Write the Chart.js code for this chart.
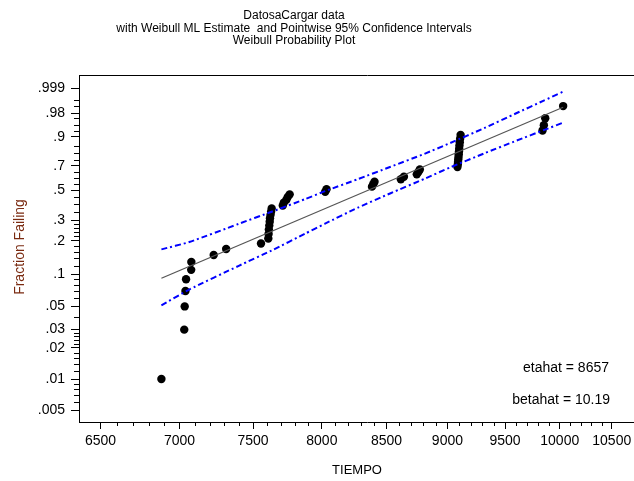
<!DOCTYPE html>
<html>
<head>
<meta charset="utf-8">
<script src="https://cdn.jsdelivr.net/npm/chart.js@4.4.1/dist/chart.umd.min.js"></script>
<style>
  html, body { margin: 0; padding: 0; background: #fff; overflow: hidden; }
  canvas { display: block; }
</style>
</head>
<body>
<canvas id="plot" width="660" height="481"></canvas>
<script>
// Failure times (TIEMPO) and their plotting positions (fraction failing)
const failTimes = [
  6882, 7031, 7034, 7039, 7043, 7077, 7078, 7228, 7313, 7556,
  7608, 7610, 7612, 7615, 7618, 7620, 7624, 7628, 7632,
  7712, 7720, 7738, 7748, 7762,
  8025, 8035,
  8385, 8395, 8405,
  8615, 8640,
  8745, 8758, 8770,
  9085, 9088, 9090, 9092, 9094, 9096, 9098, 9100, 9102, 9105, 9108, 9112,
  9840, 9852, 9865,
  10032
];
const fractionFailing = [
  0.01, 0.03, 0.05, 0.07, 0.09, 0.11, 0.13, 0.15, 0.17, 0.19,
  0.21, 0.23, 0.25, 0.27, 0.29, 0.31, 0.33, 0.35, 0.37,
  0.39, 0.41, 0.43, 0.45, 0.47,
  0.49, 0.51,
  0.53, 0.55, 0.57,
  0.59, 0.61,
  0.63, 0.65, 0.67,
  0.69, 0.71, 0.73, 0.75, 0.77, 0.79, 0.81, 0.83, 0.85, 0.87, 0.89, 0.91,
  0.93, 0.95, 0.97,
  0.99
];

// Weibull ML estimates
const etahat = 8657;
const betahat = 10.19;

// Pointwise 95% confidence limits for F(t)
const bandTimes = [6882, 7064, 7400, 7632, 7877, 8024, 8275, 8533, 8808, 9024, 9315, 9605, 9851, 10032];
const bandUpper = [0.1686, 0.1956, 0.2794, 0.3493, 0.4354, 0.4946, 0.5907, 0.6928, 0.7934, 0.8660, 0.9397, 0.98056, 0.99451, 0.99829];
const bandLower = [0.0512, 0.0722, 0.1198, 0.1649, 0.2316, 0.2803, 0.3757, 0.4785, 0.5932, 0.6879, 0.7963, 0.8806, 0.9317, 0.9583];

// Axis ticks
const xTickValues = [6500, 7000, 7500, 8000, 8500, 9000, 9500, 10000, 10500];
const yTickProbs  = [0.005, 0.01, 0.02, 0.03, 0.05, 0.1, 0.2, 0.3, 0.5, 0.7, 0.9, 0.98, 0.999];
const yTickLabels = ['.005', '.01', '.02', '.03', '.05', '.1', '.2', '.3', '.5', '.7', '.9', '.98', '.999'];
const yMinorProbs = [0.006, 0.007, 0.008, 0.009, 0.012, 0.014, 0.016, 0.018,
  0.022, 0.024, 0.026, 0.028, 0.04, 0.06, 0.07, 0.08, 0.09,
  0.12, 0.14, 0.16, 0.18, 0.22, 0.24, 0.26, 0.28, 0.35, 0.4, 0.45,
  0.55, 0.6, 0.65, 0.75, 0.8, 0.85, 0.93, 0.95, 0.97, 0.99, 0.995];

const titleLines = [
  'DatosaCargar data',
  'with Weibull ML Estimate  and Pointwise 95% Confidence Intervals',
  'Weibull Probability Plot'
];
const xTitle = 'TIEMPO';
const yTitle = 'Fraction Failing';
const notes = ['etahat = ' + etahat, 'betahat = ' + betahat.toFixed(2)];

// Weibull probability scale: log(-log(1-p))
const weib = p => Math.log(-Math.log(1 - p));

const FONT = '"Liberation Sans", Arial, sans-serif';

const decor = {
  id: 'decor',
  afterDraw(chart) {
    const ctx = chart.ctx;
    const area = chart.chartArea;
    const xs = chart.scales.x, ys = chart.scales.y;
    ctx.save();
    ctx.strokeStyle = '#000';
    ctx.lineWidth = 1;

    // top frame line
    ctx.beginPath();
    ctx.moveTo(area.left, Math.round(area.top) + 0.5);
    ctx.lineTo(area.right, Math.round(area.top) + 0.5);
    ctx.stroke();

    // x minor ticks every 100
    ctx.beginPath();
    for (let v = 6600; v <= 10400; v += 100) {
      if (v % 500 === 0) continue;
      const px = Math.round(xs.getPixelForValue(v)) + 0.5;
      ctx.moveTo(px, area.bottom);
      ctx.lineTo(px, area.bottom + 4);
    }
    // y minor ticks
    for (const p of yMinorProbs) {
      const py = Math.round(ys.getPixelForValue(weib(p))) + 0.5;
      ctx.moveTo(area.left - 5, py);
      ctx.lineTo(area.left, py);
    }
    ctx.stroke();

    // titles
    ctx.fillStyle = '#000';
    ctx.textAlign = 'center';
    ctx.textBaseline = 'alphabetic';
    ctx.font = '12px ' + FONT;
    const tY = [19, 31.5, 43.5];
    titleLines.forEach((s, i) => ctx.fillText(s, 294, tY[i]));

    // axis titles
    ctx.font = '13px ' + FONT;
    ctx.textBaseline = 'middle';
    ctx.fillText(xTitle, 357, 470);
    ctx.save();
    ctx.translate(20, 247);
    ctx.rotate(-Math.PI / 2);
    ctx.fillStyle = '#7a2a10';
    ctx.font = '14px ' + FONT;
    ctx.fillText(yTitle, 0, 0);
    ctx.restore();

    // estimate notes
    ctx.font = '14px ' + FONT;
    ctx.textAlign = 'right';
    ctx.fillText(notes[0], 609, 368);
    ctx.fillText(notes[1], 610, 400);
    ctx.restore();
  }
};

const fitEnds = [Math.min(...failTimes), Math.max(...failTimes)];

new Chart(document.getElementById('plot').getContext('2d'), {
  type: 'scatter',
  data: {
    datasets: [
      {
        label: 'data',
        data: failTimes.map((t, i) => ({ x: t, y: weib(fractionFailing[i]) })),
        pointRadius: 4.2,
        pointBackgroundColor: '#000',
        pointBorderWidth: 0,
        showLine: false,
        order: 3
      },
      {
        label: 'ML fit',
        type: 'line',
        data: fitEnds.map(t => ({ x: t, y: betahat * Math.log(t / etahat) })),
        borderColor: '#555',
        borderWidth: 1.2,
        pointRadius: 0,
        fill: false,
        order: 2
      },
      {
        label: 'upper',
        type: 'line',
        data: bandTimes.map((t, i) => ({ x: t, y: weib(bandUpper[i]) })),
        borderColor: '#0000ff',
        borderWidth: 2,
        borderDash: [6, 3, 2, 3],
        pointRadius: 0,
        tension: 0.2,
        fill: false,
        order: 1
      },
      {
        label: 'lower',
        type: 'line',
        data: bandTimes.map((t, i) => ({ x: t, y: weib(bandLower[i]) })),
        borderColor: '#0000ff',
        borderWidth: 2,
        borderDash: [6, 3, 2, 3],
        pointRadius: 0,
        tension: 0.2,
        fill: false,
        order: 1
      }
    ]
  },
  options: {
    responsive: false,
    animation: false,
    devicePixelRatio: 1,
    layout: { padding: { top: 75, left: 0, right: 0, bottom: 0 } },
    plugins: { legend: { display: false }, tooltip: { enabled: false }, title: { display: false } },
    scales: {
      x: {
        type: 'logarithmic',
        min: 6370,
        max: 10943,
        afterBuildTicks: s => { s.ticks = xTickValues.map(v => ({ value: v })); },
        afterFit: s => { s.height = 59; },
        ticks: {
          callback: v => String(v),
          color: '#000',
          font: { family: FONT, size: 14 },
          padding: 4,
          maxRotation: 0,
          autoSkip: false
        },
        grid: { drawOnChartArea: false, drawTicks: true, tickLength: 7, tickColor: '#000', tickWidth: 1 },
        border: { display: true, color: '#000', width: 1 }
      },
      y: {
        type: 'linear',
        min: -5.565,
        max: 2.225,
        afterBuildTicks: s => { s.ticks = yTickProbs.map(p => ({ value: weib(p) })); },
        afterFit: s => { s.width = 79; },
        ticks: {
          callback: (v, i) => yTickLabels[i],
          color: '#000',
          font: { family: FONT, size: 14 },
          padding: 6,
          autoSkip: false
        },
        grid: { drawOnChartArea: false, drawTicks: true, tickLength: 8, tickColor: '#000', tickWidth: 1 },
        border: { display: true, color: '#000', width: 1 }
      }
    }
  },
  plugins: [decor]
});
</script>
</body>
</html>
